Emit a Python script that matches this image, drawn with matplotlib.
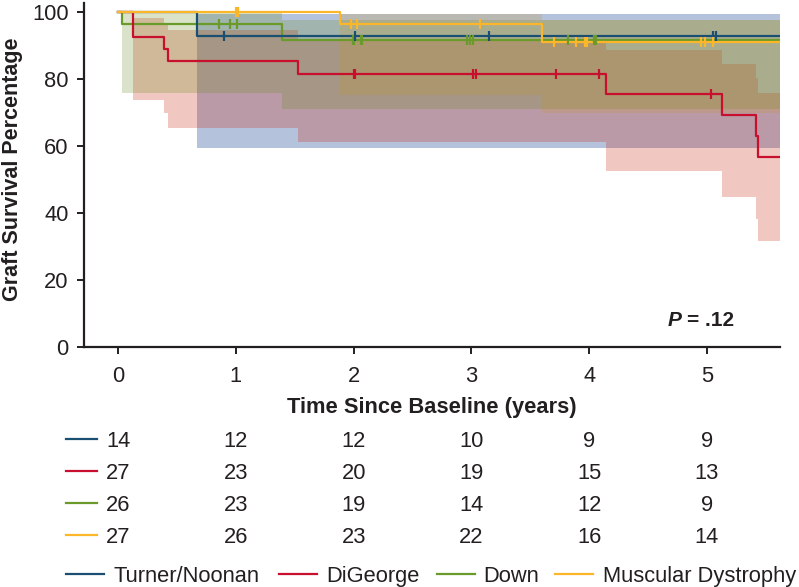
import numpy as np
import matplotlib
matplotlib.use("Agg")
import matplotlib.pyplot as plt
from matplotlib.transforms import blended_transform_factory
from matplotlib.lines import Line2D

plt.rcParams['font.family'] = ['Liberation Sans', 'DejaVu Sans']

# groups and colours
groups = ["Turner/Noonan", "DiGeorge", "Down", "Muscular Dystrophy"]
line_colors = ["#1b4f72", "#c8102e", "#6a9a2a", "#fbb62a"]
# dark tints with low alpha so overlaps darken roughly like a multiply blend
band_colors = ["#0c378a", "#cb2b13", "#608917", "#c8961e"]
band_alpha = [0.30, 0.26, 0.23, 0.21]

x_end = 5.62

# Kaplan-Meier steps (time in years, survival %)
tn_t = [0, 0.67, x_end]
tn_s = [100, 92.9, 92.9]
dg_t = [0, 0.125, 0.39, 0.42, 1.53, 4.14, 5.13, 5.42, 5.43, x_end]
dg_s = [100, 92.6, 88.9, 85.2, 81.5, 75.4, 69.1, 63.0, 56.8, 56.8]
dn_t = [0, 0.03, 1.39, x_end]
dn_s = [100, 96.2, 91.7, 91.7]
md_t = [0, 1.88, 3.60, x_end]
md_s = [100, 96.3, 91.1, 91.1]

# censored times
tn_cens = [0.90, 2.01, 3.15, 5.05, 5.08]
dg_cens = [2.00, 2.01, 3.01, 3.04, 3.72, 4.08, 5.03]
dn_cens = [0.86, 0.95, 1.01, 1.99, 2.00, 2.06, 2.07, 2.96, 2.99, 3.01, 3.82, 4.04, 4.06]
md_cens = [1.00, 1.02, 1.98, 2.03, 3.07, 3.70, 3.89, 3.96, 3.98, 4.95, 4.98, 5.05]

# confidence bands
tn_band_t = [0.67, x_end]
tn_hi = [99.4, 99.4]
tn_lo = [59.3, 59.3]
dg_band_t = [0.125, 0.39, 0.42, 1.53, 4.14, 5.13, 5.42, 5.43, x_end]
dg_hi = [98.1, 95.9, 94.6, 91.5, 88.7, 84.5, 80.2, 75.7, 75.7]
dg_lo = [73.7, 69.8, 65.3, 61.0, 52.6, 44.6, 38.2, 31.6, 31.6]
dn_band_t = [0.03, 1.39, x_end]
dn_hi = [100, 97.6, 97.6]
dn_lo = [75.7, 71.0, 71.0]
md_band_t = [1.88, 3.60, x_end]
md_hi = [99.4, 97.6, 97.6]
md_lo = [75.2, 69.7, 69.7]

# numbers at risk
risk_times = [0, 1, 2, 3, 4, 5]
tn_risk = [14, 12, 12, 10, 9, 9]
dg_risk = [27, 23, 20, 19, 15, 13]
dn_risk = [26, 23, 19, 14, 12, 9]
md_risk = [27, 26, 23, 22, 16, 14]

curves = [(tn_t, tn_s), (dg_t, dg_s), (dn_t, dn_s), (md_t, md_s)]
cens = [tn_cens, dg_cens, dn_cens, md_cens]
bands = [(tn_band_t, tn_hi, tn_lo), (dg_band_t, dg_hi, dg_lo),
         (dn_band_t, dn_hi, dn_lo), (md_band_t, md_hi, md_lo)]
risks = [tn_risk, dg_risk, dn_risk, md_risk]

fig = plt.figure(figsize=(7.99, 5.87), dpi=100)
W, H = 799, 587
ax = fig.add_axes([84 / W, (H - 347) / H, (780 - 84) / W, (347 - 3) / H])

txt = "#231f20"
fs = 15.75
half_cap = 7.8  # px, half of cap height, to put text baselines

for (bt, hi, lo), c, a in zip(bands, band_colors, band_alpha):
    ax.fill_between(bt, lo, hi, step="post", color=c, alpha=a, lw=0)

draw_order = [2, 0, 1, 3]
for i in draw_order:
    t, s = curves[i]
    ax.plot(t, s, drawstyle="steps-post", color=line_colors[i], lw=1.6, zorder=3)
    ct = np.array(cens[i])
    idx = np.searchsorted(t, ct, side="right") - 1
    cs = np.array(s)[idx]
    ax.plot(ct, cs, ls="none", marker="|", ms=7, mew=1.6,
            color=line_colors[i], zorder=4)

ax.set_xlim(-0.29, x_end)
ax.set_ylim(0, 102.6)
ax.set_yticks([0, 20, 40, 60, 80, 100])
ax.set_xticks(risk_times)
for sp in ["top", "right"]:
    ax.spines[sp].set_visible(False)
for sp in ["left", "bottom"]:
    ax.spines[sp].set_linewidth(1.6)
    ax.spines[sp].set_color(txt)
ax.tick_params(axis="both", labelsize=fs, colors=txt, width=1.4, length=5)
ax.tick_params(axis="y", pad=6)
ax.tick_params(axis="x", pad=9)

fig.text(13 / W, 1 - 169 / H, "Graft Survival Percentage", rotation=90,
         ha="center", va="center", fontsize=15.5, fontweight="bold", color=txt)
fig.text(432 / W, 1 - 408 / H, "Time Since Baseline (years)",
         ha="center", va="center", fontsize=fs, fontweight="bold", color=txt)

pv = ax.text(5.23, 7.8, "= .12", ha="right", va="center", fontsize=15,
             fontweight="bold", color=txt)
ax.annotate("P", xy=(0, 0.5), xycoords=pv, xytext=(-4, 0),
            textcoords="offset points", ha="right", va="center",
            fontsize=15, fontweight="bold", fontstyle="italic", color=txt)

# risk table
tr = blended_transform_factory(ax.transData, fig.transFigure)
row_y = [439, 471, 503, 535]
for r, c, py in zip(risks, line_colors, row_y):
    yf = 1 - py / H
    fig.add_artist(Line2D([66 / W, 97 / W], [yf, yf], color=c, lw=1.6))
    for xt, n in zip(risk_times, r):
        fig.text(xt, 1 - (py + half_cap) / H, str(n), transform=tr,
                 ha="center", va="baseline", fontsize=fs, color=txt)

# legend
leg_line = [(66, 104), (279, 317), (437, 475), (555, 593)]
leg_text = [113, 326, 483, 603]
ly = 1 - 574 / H
for g, c, (a, b), tx in zip(groups, line_colors, leg_line, leg_text):
    fig.add_artist(Line2D([a / W, b / W], [ly, ly], color=c, lw=1.6))
    fig.text(tx / W, 1 - (574 + half_cap) / H, g, ha="left", va="baseline",
             fontsize=fs, color=txt)

fig.savefig("out.png", dpi=100)
